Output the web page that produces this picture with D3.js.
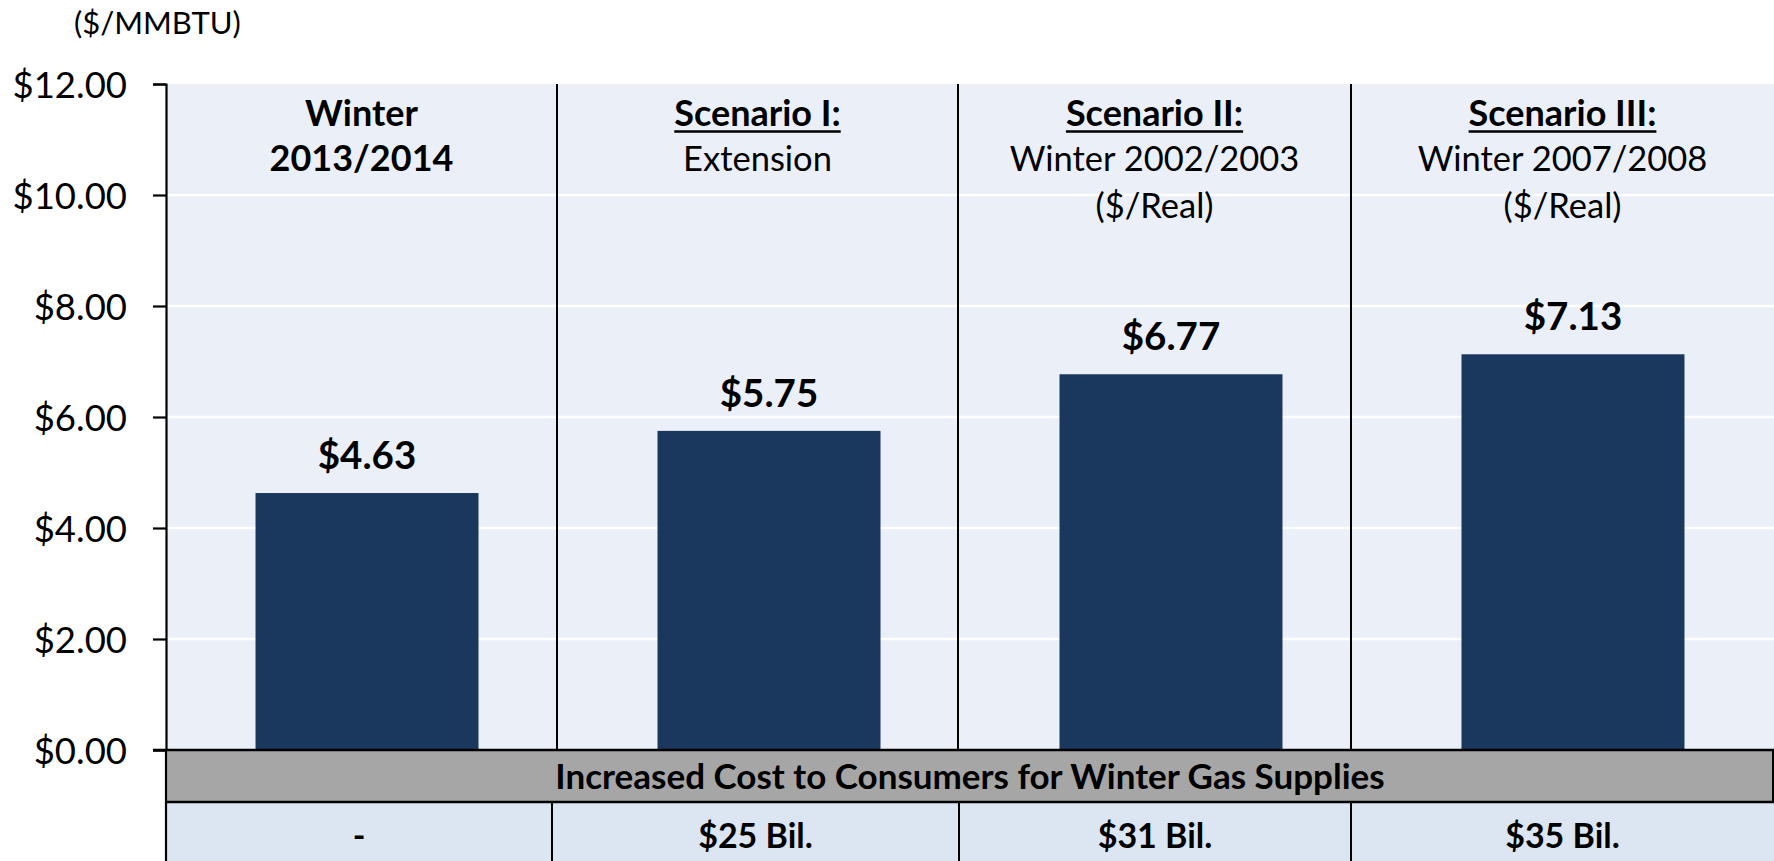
<!DOCTYPE html>
<html>
<head>
<meta charset="utf-8">
<script src="https://cdn.jsdelivr.net/npm/d3@7"></script>
<style>
  html, body { margin: 0; padding: 0; background: #ffffff; }
  svg { display: block; }
  text { font-family: Lato, "Open Sans", sans-serif; fill: #000; }
</style>
</head>
<body>
<svg id="chart" width="1774" height="861"></svg>
<script>
// ---- data ----
const categories = ["Winter 2013/2014", "Scenario I", "Scenario II", "Scenario III"];
const prices = [4.63, 5.75, 6.77, 7.13];
const priceLabels = ["$4.63", "$5.75", "$6.77", "$7.13"];
const headerTitles = ["Winter", "Scenario I:", "Scenario II:", "Scenario III:"];
const headerUnderlined = [false, true, true, true];
const headerLines = [["2013/2014"], ["Extension"], ["Winter 2002/2003", "($/Real)"], ["Winter 2007/2008", "($/Real)"]];
const headerLinesBold = [true, false, false, false];
const yTicks = [0, 2, 4, 6, 8, 10, 12];
const unitLabel = "($/MMBTU)";
const tableTitle = "Increased Cost to Consumers for Winter Gas Supplies";
const costLabels = ["-", "$25 Bil.", "$31 Bil.", "$35 Bil."];

// ---- layout ----
const W = 1774, H = 861;
const plotLeft = 166, plotRight = 1774, plotTop = 84, plotBase = 750;
const colEdges = [166, 557, 958, 1351, 1774];
const tableEdges = [166, 552, 959, 1351, 1774];
const rowMid = 802;

const svg = d3.select("#chart");

const y = d3.scaleLinear().domain([0, 12]).range([plotBase, plotTop]);
const x = d3.scaleBand().domain(categories).range([plotLeft, plotRight])
  .paddingInner(0.4453).paddingOuter(0.2227);

// plot background
svg.append("rect").attr("x", plotLeft).attr("y", y(12)).attr("width", plotRight - plotLeft)
  .attr("height", y(0) - y(12)).attr("fill", "#EBF0F8");

// gridlines
svg.append("g").selectAll("line").data(yTicks.filter(d => d > 0 && d < 12)).join("line")
  .attr("x1", plotLeft).attr("x2", plotRight).attr("y1", d => y(d)).attr("y2", d => y(d))
  .attr("stroke", "#ffffff").attr("stroke-width", 2.5);

// bars
svg.append("g").selectAll("rect").data(prices).join("rect")
  .attr("x", (d, i) => x(categories[i]))
  .attr("width", x.bandwidth())
  .attr("y", d => y(d))
  .attr("height", d => y(0) - y(d))
  .attr("fill", "#1A375E");

// column dividers
svg.append("g").selectAll("line").data(colEdges.slice(1, -1)).join("line")
  .attr("x1", d => d).attr("x2", d => d).attr("y1", y(12)).attr("y2", y(0))
  .attr("stroke", "#000").attr("stroke-width", 2);

// y axis
const yAxis = d3.axisLeft(y).tickValues(yTicks).tickSize(13).tickPadding(26)
  .tickFormat(d => "$" + d3.format(".2f")(d));
const ga = svg.append("g").attr("transform", `translate(${plotLeft},0)`).call(yAxis);
ga.select(".domain").attr("stroke", "#000").attr("stroke-width", 2.2);
ga.selectAll(".tick line").attr("stroke", "#000").attr("stroke-width", 2.2);
ga.selectAll(".tick text").attr("font-size", 36.5).attr("font-family", "Lato").attr("fill", "#000")
  .attr("dy", "0.36em");

// unit label
svg.append("text").attr("x", 74).attr("y", 34).attr("font-size", 31).text(unitLabel);

// headers
const colCenter = i => (colEdges[i] + colEdges[i + 1]) / 2;
headerTitles.forEach((t, i) => {
  const tx = svg.append("text").attr("x", colCenter(i)).attr("y", 126)
    .attr("text-anchor", "middle").attr("font-size", 36).attr("font-weight", 700).text(t);
  if (headerUnderlined[i]) {
    const w = tx.node().getComputedTextLength();
    svg.append("line").attr("x1", colCenter(i) - w / 2).attr("x2", colCenter(i) + w / 2)
      .attr("y1", 131.5).attr("y2", 131.5).attr("stroke", "#000").attr("stroke-width", 2.4);
  }
  headerLines[i].forEach((l, j) => {
    svg.append("text").attr("x", colCenter(i)).attr("y", 171 + j * 46.5)
      .attr("text-anchor", "middle").attr("font-size", i === 0 ? 36 : 34.5)
      .attr("font-weight", headerLinesBold[i] ? 700 : 400).text(l);
  });
});

// value labels
svg.append("g").selectAll("text").data(prices).join("text")
  .attr("x", (d, i) => x(categories[i]) + x.bandwidth() / 2)
  .attr("y", d => y(d) - 24)
  .attr("text-anchor", "middle").attr("font-size", 38.5).attr("font-weight", 700)
  .text((d, i) => priceLabels[i]);

// table: gray header row
svg.append("rect").attr("x", plotLeft).attr("y", plotBase).attr("width", plotRight - plotLeft)
  .attr("height", rowMid - plotBase).attr("fill", "#A6A6A6");
svg.append("text").attr("x", (plotLeft + plotRight) / 2).attr("y", (plotBase + rowMid) / 2)
  .attr("dy", "0.36em").attr("text-anchor", "middle").attr("font-size", 35)
  .attr("font-weight", 700).text(tableTitle);

// cost row
svg.append("rect").attr("x", plotLeft).attr("y", rowMid).attr("width", plotRight - plotLeft)
  .attr("height", H - rowMid).attr("fill", "#DCE6F2");
svg.append("g").selectAll("line").data(tableEdges.slice(1, -1)).join("line")
  .attr("x1", d => d).attr("x2", d => d).attr("y1", rowMid).attr("y2", H)
  .attr("stroke", "#000").attr("stroke-width", 2);
svg.append("g").selectAll("text").data(costLabels).join("text")
  .attr("x", (d, i) => (tableEdges[i] + tableEdges[i + 1]) / 2)
  .attr("y", 848).attr("text-anchor", "middle").attr("font-size", 34)
  .attr("font-weight", 700).text(d => d);

// table borders
svg.append("line").attr("x1", plotLeft - 13).attr("x2", plotRight).attr("y1", plotBase).attr("y2", plotBase)
  .attr("stroke", "#000").attr("stroke-width", 2.6);
svg.append("line").attr("x1", plotLeft).attr("x2", plotRight).attr("y1", rowMid).attr("y2", rowMid)
  .attr("stroke", "#000").attr("stroke-width", 2.6);
svg.append("line").attr("x1", plotLeft).attr("x2", plotLeft).attr("y1", plotBase).attr("y2", H)
  .attr("stroke", "#000").attr("stroke-width", 2.2);
svg.append("line").attr("x1", plotRight - 1).attr("x2", plotRight - 1).attr("y1", plotBase).attr("y2", rowMid)
  .attr("stroke", "#000").attr("stroke-width", 2);
</script>
</body>
</html>
